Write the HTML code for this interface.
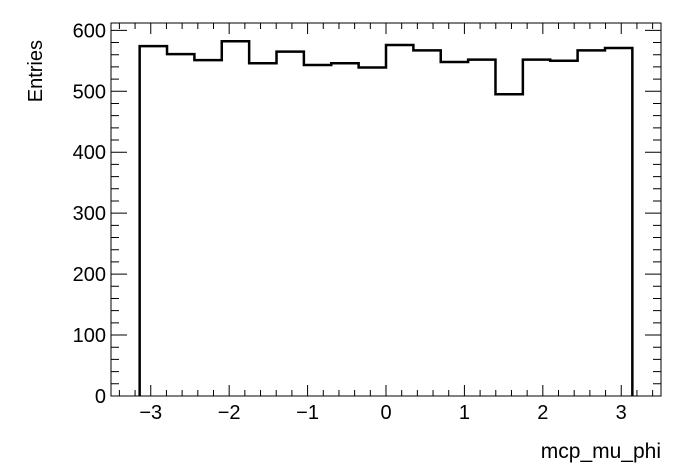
<!DOCTYPE html>
<html><head><meta charset="utf-8"><style>
body{margin:0;background:#fff;}
svg{display:block;font-family:"Liberation Sans",Arial,sans-serif;}
</style></head><body>
<svg id="c" width="696" height="472">
<rect width="696" height="472" fill="#fff"/>
<text x="42" y="40" font-size="20" text-anchor="end" transform="rotate(-90 42 40)">Entries</text>
<text x="661" y="458" font-size="21" text-anchor="end">mcp_mu_phi</text>
</svg>
<script>
const binLow = -Math.PI, binHigh = Math.PI;
const counts = [574,561,551,582,546,565,543,546,539,576,567,548,552,495,552,550,567,571];
const xTicks = [-3,-2,-1,0,1,2,3];
const yTicks = [0,100,200,300,400,500,600];
const L=111,R=661,T=23,B=396, xmin=-3.507,xmax=3.507,ymin=0,ymax=612;
const X=v=>L+(v-xmin)/(xmax-xmin)*(R-L);
const Y=v=>B-(v-ymin)/(ymax-ymin)*(B-T);
const svg=document.getElementById('c');
const NS='http://www.w3.org/2000/svg';
function mk(t,a){const e=document.createElementNS(NS,t);for(const k in a)e.setAttribute(k,a[k]);svg.appendChild(e);return e;}
const frame=mk('rect',{x:L,y:T,width:R-L,height:B-T,fill:'none',stroke:'#000','stroke-width':1});


let d='';
for(let v=-3.4;v<=3.41;v+=0.2){const x=X(v);const maj=Math.abs(v-Math.round(v))<1e-6;const l=maj?11:6;d+=`M${x},${B}v${-l}M${x},${T}v${l}`;}
for(let v=0;v<=ymax;v+=20){const y=Y(v);const maj=v%100===0;const l=maj?16:8;d+=`M${L},${y}h${l}M${R},${y}h${-l}`;}
const tk=mk('path',{d:d,stroke:'#000','stroke-width':1,fill:'none'});


xTicks.forEach(v=>{const t=mk('text',{x:X(v),y:B+23,'font-size':20,'text-anchor':'middle'});t.textContent=v<0?'\u2212'+(-v):String(v);

});
yTicks.forEach(v=>{const t=mk('text',{x:L-5,y:Y(v)+7,'font-size':20,'text-anchor':'end'});t.textContent=String(v);

});
const w=(binHigh-binLow)/counts.length;
let p=`M${X(binLow)},${Y(0)}`;
counts.forEach((c,i)=>{p+=`L${X(binLow+i*w)},${Y(c)}L${X(binLow+(i+1)*w)},${Y(c)}`;});
p+=`L${X(binHigh)},${Y(0)}`;
const h=mk('path',{d:p,fill:'none',stroke:'#000','stroke-width':2.5});


</script>
</body></html>
